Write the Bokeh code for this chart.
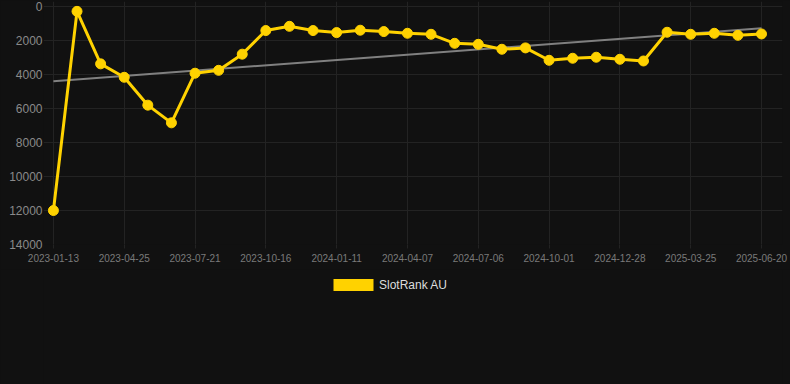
from bokeh.plotting import figure
from bokeh.layouts import column
from bokeh.models import Range1d, FixedTicker, Legend, LegendItem, ColumnDataSource
from bokeh.embed import file_html
from bokeh.resources import INLINE

# ---- data ----
tick_labels = ["2023-01-13", "2023-04-25", "2023-07-21", "2023-10-16", "2024-01-11",
               "2024-04-07", "2024-07-06", "2024-10-01", "2024-12-28", "2025-03-25",
               "2025-06-20"]
rank_values = [12000, 280, 3370, 4160, 5800, 6840, 3920, 3750, 2800, 1410,
               1160, 1410, 1530, 1390, 1470, 1570, 1630, 2160, 2220, 2510,
               2430, 3160, 3040, 2980, 3100, 3200, 1510, 1630, 1570, 1690, 1610]
trend_values = [4390, 1280]
y_ticks = [0, 2000, 4000, 6000, 8000, 10000, 12000, 14000]
series_name = "SlotRank AU"

idx = list(range(len(rank_values)))
tick_idx = list(range(0, len(rank_values), 3))

BG = "#111111"
YELLOW = "#FFD200"
GRID = "#232323"
FONT = "Liberation Sans"

p = figure(width=790, height=269, output_backend="svg", toolbar_location=None,
           x_range=Range1d(-0.42, 30.89), y_range=Range1d(14000, -300),
           background_fill_color=BG, border_fill_color=BG, outline_line_color=None,
           min_border_left=43, min_border_right=8, min_border_top=1, min_border_bottom=25)
p.styles = {"background-color": BG}

# grids
p.xgrid.grid_line_color = GRID
p.ygrid.grid_line_color = GRID

# x axis
p.xaxis.ticker = FixedTicker(ticks=tick_idx)
p.xaxis.major_label_overrides = {i: lab for i, lab in zip(tick_idx, tick_labels)}
p.xaxis.axis_line_color = None
p.xaxis.major_tick_line_color = GRID
p.xaxis.major_tick_out = 4
p.xaxis.major_tick_in = 0
p.xaxis.minor_tick_line_color = None
p.xaxis.major_label_standoff = 5
p.xaxis.major_label_text_font = FONT
p.xaxis.major_label_text_font_size = "10px"
p.xaxis.major_label_text_color = "#7a7a7a"

# y axis
p.yaxis.ticker = FixedTicker(ticks=y_ticks)
p.yaxis.axis_line_color = None
p.yaxis.major_tick_line_color = None
p.yaxis.major_tick_out = 0
p.yaxis.major_tick_in = 0
p.yaxis.minor_tick_line_color = None
p.yaxis.major_label_standoff = 1
p.yaxis.major_label_text_font = FONT
p.yaxis.major_label_text_font_size = "12px"
p.yaxis.major_label_text_color = "#8a8a8a"

src = ColumnDataSource(dict(x=idx, y=rank_values))

# trend line
p.line(x=[idx[0], idx[-1]], y=trend_values, line_color="#808080", line_width=2)

# series
p.line("x", "y", source=src, line_color=YELLOW, line_width=3)
p.scatter("x", "y", source=src, size=10, fill_color=YELLOW, line_color=YELLOW)

# legend area (separate figure below the chart)
lg = figure(width=790, height=115, output_backend="svg", toolbar_location=None,
            x_range=Range1d(0, 1), y_range=Range1d(0, 1),
            x_axis_location=None, y_axis_location=None,
            background_fill_color=BG, border_fill_color=BG, outline_line_color=None,
            min_border=0, min_border_left=0, min_border_right=0,
            min_border_top=0, min_border_bottom=0)
lg.styles = {"background-color": BG}
lg.xgrid.visible = False
lg.ygrid.visible = False
# zero-area swatch glyph, only used to give the legend its colour
sw = lg.quad(left=[0], right=[0], top=[0], bottom=[0], fill_color=YELLOW,
             line_color=None)

legend = Legend(items=[LegendItem(label=series_name, renderers=[sw])],
                location=(285, 92), orientation="horizontal",
                glyph_width=50, glyph_height=15, label_standoff=1,
                padding=0, margin=0, spacing=0,
                border_line_color=None, background_fill_alpha=0,
                label_text_font=FONT, label_text_font_size="12px",
                label_text_color="#dddddd")
lg.add_layout(legend, "center")

layout = column(p, lg, spacing=0)
layout.styles = {"background-color": BG}
open("out.html", "w").write(file_html(layout, INLINE))
